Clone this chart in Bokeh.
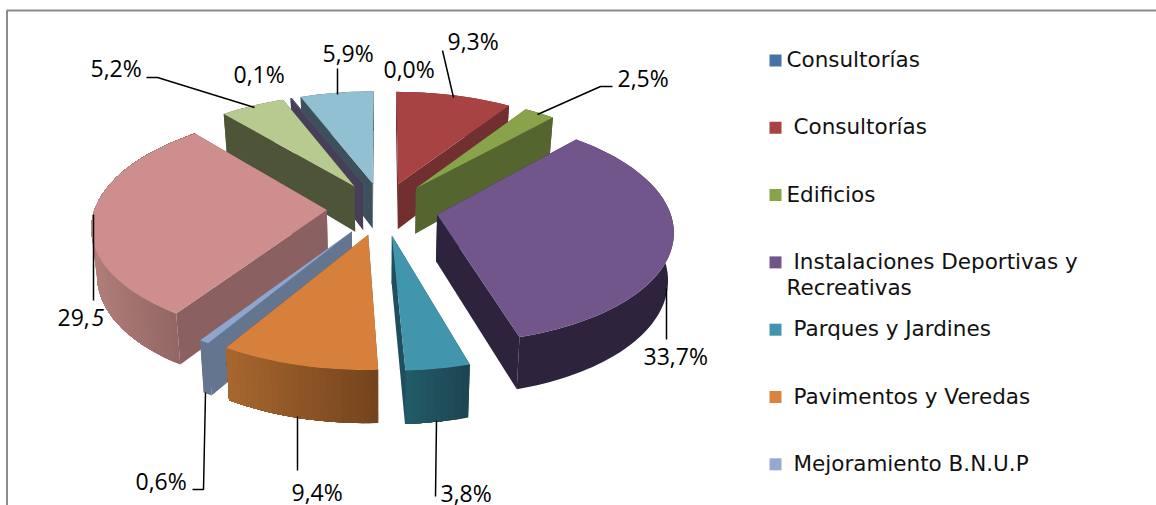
import math
from bokeh.plotting import figure
from bokeh.models import Range1d
from bokeh.core.properties import value
from bokeh.embed import file_html
from bokeh.resources import INLINE

# ---- data ----
slice_values = [0.0, 9.3, 2.5, 33.7, 3.8, 9.4, 0.6, 29.5, 5.2, 0.1, 5.9]
slice_labels = ["0,0%", "9,3%", "2,5%", "33,7%", "3,8%", "9,4%", "0,6%", "29,", "5,2%", "0,1%", "5,9%"]
legend_labels = ["Consultorías", "Consultorías", "Edificios", "Instalaciones Deportivas y",
                 "Parques y Jardines", "Pavimentos y Veredas", "Mejoramiento B.N.U.P"]

# ---- styles ----
top_colors = ["#4573A7", "#A84343", "#88A34A", "#71568C", "#4196AE", "#D7803B",
              "#8FA5CE", "#CE8E8D", "#B7CB91", "#5A5070", "#92C0D3"]
wall_colors = ["#2E4C70", "#71302F", "#556530", "#2D233C", "#1F4F5C", "#74441E",
               "#64758F", "#8A6160", "#4D5438", "#463F57", "#3C515B"]
rim_left = ["#2E4C70", "#71302F", "#556530", "#2D233C", "#245C6A", "#A8682F",
            "#64758F", "#B27E79", "#4D5438", "#463F57", "#3C515B"]
rim_right = ["#2E4C70", "#71302F", "#556530", "#2D233C", "#1C4651", "#74441E",
             "#64758F", "#8B6260", "#4D5438", "#463F57", "#3C515B"]
legend_colors = ["#4573A7", "#A84343", "#88A34A", "#71568C", "#4196AE", "#DA853F", "#95A9D0"]
FRAME = "#8C8C8C"

# ---- projection of the exploded pie ----
CX, CY, RX, RY, PERSP, EXPLODE = 382.0, 208.0, 232.0, 110.0, 0.13, 0.24


def project(u, v, lower=False):
    s = 1.0 / (1.0 - PERSP * v)
    x = CX + RX * u * s
    y = CY + RY * v * s
    if lower:
        x = CX + (x - CX) * 0.98
        y += 46.5 + 5.5 * v
    return x, y


def mix(a, b, t):
    ca = [int(a[i:i + 2], 16) for i in (1, 3, 5)]
    cb = [int(b[i:i + 2], 16) for i in (1, 3, 5)]
    return "#%02X%02X%02X" % tuple(round(p + (q - p) * t) for p, q in zip(ca, cb))


total = sum(slice_values)
geom = []
acc = 0.0
for i, val in enumerate(slice_values):
    a0 = acc / total * 2 * math.pi
    acc += val
    a1 = acc / total * 2 * math.pi
    mid = (a0 + a1) / 2
    ou, ov = EXPLODE * math.sin(mid), -EXPLODE * math.cos(mid)
    geom.append((i, a0, a1, ou, ov, -math.cos(mid)))

xs, ys, fills = [], [], []


def add(poly, color):
    xs.append([p[0] for p in poly])
    ys.append([p[1] for p in poly])
    fills.append(color)


for i, a0, a1, ou, ov, _ in sorted(geom, key=lambda g: g[5]):
    if slice_values[i] == 0:
        continue
    n = max(2, int((a1 - a0) / math.radians(1.5)))
    arc = [(ou + math.sin(a0 + (a1 - a0) * k / n), ov - math.cos(a0 + (a1 - a0) * k / n)) for k in range(n + 1)]
    apex = (ou, ov)
    # walls, farthest first
    walls = []
    for e in (arc[0], arc[-1]):
        quad = [project(*apex), project(*e), project(*e, lower=True), project(*apex, lower=True)]
        walls.append((sum(c[1] for c in quad) / 4, quad))
    walls.sort(key=lambda w: w[0])
    add(walls[0][1], wall_colors[i])
    # rim: overlapping bands, each reaching the end of the arc, so no seam shows
    arc_x = [project(*c)[0] for c in arc]
    lo, hi = min(arc_x), max(arc_x)
    step = n if rim_left[i] == rim_right[i] else 1
    for k in range(0, n, step):
        part = arc[k:]
        band = [project(*c) for c in part] + [project(*c, lower=True) for c in reversed(part)]
        t = (arc_x[k] - lo) / max(hi - lo, 1)
        add(band, mix(rim_left[i], rim_right[i], t))
    add(walls[1][1], wall_colors[i])
    add([project(*apex)] + [project(*c) for c in arc], top_colors[i])

# ---- figure: one data unit is one pixel of the window ----
W, H = 1156, 505
p = figure(width=W, height=H, x_range=Range1d(0, W), y_range=Range1d(H, 0), output_backend="svg",
           toolbar_location=None, min_border=0, outline_line_color=None, background_fill_color="white")
p.axis.visible = False
p.grid.visible = False

p.line([6.5, 6.5, W], [H, 10, 10], line_color=FRAME, line_width=2)
p.patches(xs, ys, fill_color=fills, line_color=None)

# ---- leader lines ----
leaders = [
    ([146, 157, 254], [77, 77, 107]),
    ([337, 337], [68, 94]),
    ([442, 453], [50, 97]),
    ([612, 600, 537], [86, 86, 114]),
    ([666, 666], [288, 339]),
    ([436, 435], [420, 496]),
    ([297, 297], [416, 470]),
    ([205, 203, 192], [392, 489, 489]),
    ([93, 93], [214, 300]),
]
p.multi_line([l[0] for l in leaders], [l[1] for l in leaders], line_color="black", line_width=1.5)

# ---- data labels ----
label_x = [383, 447, 617, 643, 440, 291, 135, 57, 90, 233, 322]
label_y = [68.5, 40.5, 77.5, 355.5, 492.5, 491.5, 480.5, 316.5, 67.5, 73.5, 52.5]
p.text(label_x, label_y, text=slice_labels, text_font=value("Open Sans"), text_font_size="23px",
       text_color="black", text_align="left", text_baseline="alphabetic")
p.text([91], [316.5], text=["5"], text_font=value("Open Sans"), text_font_size="23px",
       text_font_style="italic", text_color="black", text_align="left", text_baseline="alphabetic")

# ---- legend ----
rows = [60 + 67.3 * i for i in range(len(legend_labels))]
p.rect([775] * len(rows), rows, width=12, height=12, fill_color=legend_colors, line_color=None)
indent = [786, 793, 786, 793, 793, 793, 793]
p.text(indent, [r - 1 for r in rows], text=legend_labels, text_font=value("DejaVu Sans"),
       text_font_size="21.5px", text_color="#111111", text_align="left", text_baseline="alphabetic")
p.text([786], [287], text=["Recreativas"], text_font=value("DejaVu Sans"),
       text_font_size="21.5px", text_color="#111111", text_align="left", text_baseline="alphabetic")

open("out.html", "w").write(file_html(p, INLINE))
